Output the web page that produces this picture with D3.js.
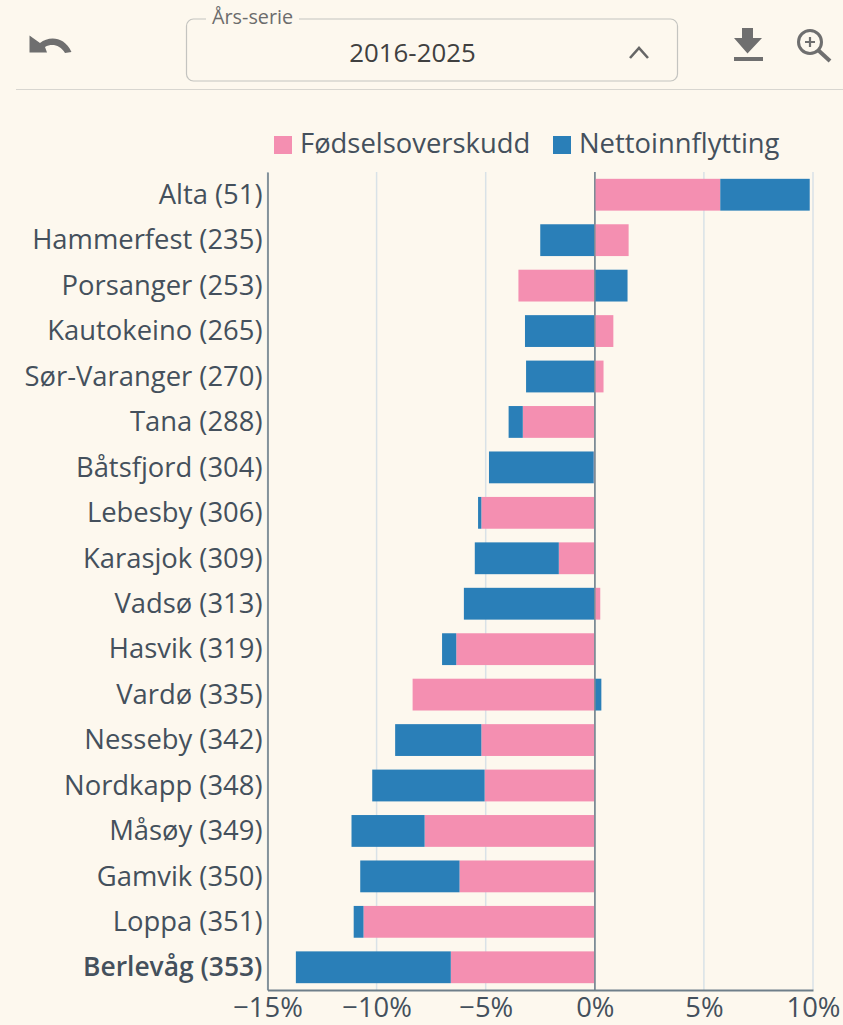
<!DOCTYPE html>
<html>
<head>
<meta charset="utf-8">
<script src="https://cdn.jsdelivr.net/npm/d3@7"></script>
<style>
  html, body { margin: 0; padding: 0; background: #fdf8ee; overflow: hidden; }
  text { font-family: "Open Sans", sans-serif; }
</style>
</head>
<body>
<div id="chart_container"></div>
<script>
const categories = ["Alta (51)", "Hammerfest (235)", "Porsanger (253)", "Kautokeino (265)", "Sør-Varanger (270)", "Tana (288)", "Båtsfjord (304)", "Lebesby (306)", "Karasjok (309)", "Vadsø (313)", "Hasvik (319)", "Vardø (335)", "Nesseby (342)", "Nordkapp (348)", "Måsøy (349)", "Gamvik (350)", "Loppa (351)", "Berlevåg (353)"];
const fodsel = [5.75, 1.55, -3.5, 0.85, 0.4, -3.3, -0.05, -5.2, -1.65, 0.25, -6.35, -8.35, -5.2, -5.05, -7.8, -6.2, -10.6, -6.6];
const netto = [4.1, -2.5, 1.5, -3.2, -3.15, -0.65, -4.8, -0.15, -3.85, -6.0, -0.65, 0.3, -3.95, -5.15, -3.35, -4.55, -0.45, -7.1];
const xTicks = [-15, -10, -5, 0, 5, 10];
const seriesNames = ["Fødselsoverskudd", "Nettoinnflytting"];
const colors = ["#f48fb1", "#2a7fb8"];

const width = 843, height = 1025;
const svg = d3.select("#chart_container").append("svg")
  .attr("width", width)
  .attr("height", height)
  .style("display", "block");

const x = d3.scaleLinear().domain([-15, 10]).range([267.5, 813]);
const y = d3.scaleBand().domain(categories).range([172, 990]).paddingInner(0.3).paddingOuter(0.15);

// toolbar
svg.append("path")
  .attr("d", "M40 43 C49 36 64 36 71.5 52 L65 53 C60 45 52 43 45 47 L47 52.5 L29.5 52.5 L29.5 35.5 Z")
  .attr("fill", "#6f6f6f");
svg.append("rect").attr("x", 186.5).attr("y", 19).attr("width", 491).attr("height", 62).attr("rx", 7)
  .attr("fill", "none").attr("stroke", "#c4c4c0").attr("stroke-width", 1.2);
svg.append("rect").attr("x", 206).attr("y", 12).attr("width", 93).attr("height", 14).attr("fill", "#fdf8ee");
svg.append("text").attr("x", 212).attr("y", 24).attr("font-size", 19.8).attr("fill", "#6c6c6c").text("Års-serie");
svg.append("text").attr("x", 412.5).attr("y", 62).attr("text-anchor", "middle").attr("font-size", 25.8).attr("fill", "#404040").text("2016-2025");
svg.append("path").attr("d", "M630 58 L639 48 L648 58").attr("fill", "none").attr("stroke", "#666").attr("stroke-width", 2.6);
svg.append("path").attr("d", "M742 28 H753 V38 H762 L747.5 53.5 L734 38 H742 Z").attr("fill", "#6f6f6f");
svg.append("rect").attr("x", 734).attr("y", 57).attr("width", 29).attr("height", 4).attr("fill", "#6f6f6f");
svg.append("circle").attr("cx", 810).attr("cy", 42).attr("r", 11.5).attr("fill", "none").attr("stroke", "#6f6f6f").attr("stroke-width", 3);
svg.append("path").attr("d", "M818 50 L830 61").attr("stroke", "#6f6f6f").attr("stroke-width", 4);
svg.append("path").attr("d", "M805 42 H815 M810 37 V47").attr("stroke", "#6f6f6f").attr("stroke-width", 2.2);
svg.append("line").attr("x1", 16).attr("x2", 843).attr("y1", 89.5).attr("y2", 89.5).attr("stroke", "#d8d6d0").attr("stroke-width", 1.2);

// grid lines
svg.append("g").selectAll("line").data(xTicks).join("line")
  .attr("x1", d => x(d)).attr("x2", d => x(d))
  .attr("y1", 172).attr("y2", 990)
  .attr("stroke", d => d === 0 ? "#7c8b96" : "#d9e2e7")
  .attr("stroke-width", 1.5);

// stacked bars, negative and positive values stack outward from zero separately
const rows = categories.map((c, i) => {
  const a = fodsel[i], b = netto[i];
  const bStart = (a >= 0) === (b >= 0) ? a : 0;
  return [
    { cat: c, from: 0, to: a, s: 0 },
    { cat: c, from: bStart, to: bStart + b, s: 1 }
  ];
}).flat();

svg.append("g").selectAll("rect").data(rows).join("rect")
  .attr("x", d => x(Math.min(d.from, d.to)))
  .attr("width", d => Math.abs(x(d.to) - x(d.from)))
  .attr("y", d => y(d.cat))
  .attr("height", y.bandwidth())
  .attr("fill", d => colors[d.s]);

// zero line sits on top of the bars
svg.append("line")
  .attr("x1", x(0)).attr("x2", x(0)).attr("y1", 172).attr("y2", 990)
  .attr("stroke", "#7c8b96").attr("stroke-width", 1.5);

// y axis
const yAxis = svg.append("g").attr("transform", "translate(267.5,0)")
  .call(d3.axisLeft(y).tickSize(0).tickPadding(5));
yAxis.select(".domain").attr("stroke", "#6f7f8a").attr("stroke-width", 1.6);
yAxis.selectAll("text")
  .attr("font-size", d => d.startsWith("Berlevåg") ? 26.4 : 27.4)
  .attr("dy", "0.34em")
  .attr("fill", "#44505c")
  .style("font-family", '"Open Sans", sans-serif')
  .style("font-weight", d => d.startsWith("Berlevåg") ? 600 : 400);

// x axis
const xAxis = svg.append("g").attr("transform", "translate(0,990)")
  .call(d3.axisBottom(x).tickValues(xTicks).tickSize(0).tickPadding(8)
    .tickFormat(d => (d < 0 ? "−" + Math.abs(d) : d) + "%"));
xAxis.select(".domain").attr("stroke", "#6f7f8a").attr("stroke-width", 2);
xAxis.selectAll("text")
  .attr("font-size", 27.4)
  .attr("fill", "#44505c")
  .style("font-family", '"Open Sans", sans-serif');

// legend
const legendX = [274, 553];
const legend = svg.append("g").selectAll("g").data(seriesNames).join("g")
  .attr("transform", (d, i) => "translate(" + legendX[i] + ",136)");
legend.append("rect").attr("width", 18).attr("height", 18).attr("fill", (d, i) => colors[i]);
legend.append("text").attr("x", 26).attr("y", 17).attr("font-size", 27.4).attr("fill", "#44505c").text(d => d);
</script>
</body>
</html>
